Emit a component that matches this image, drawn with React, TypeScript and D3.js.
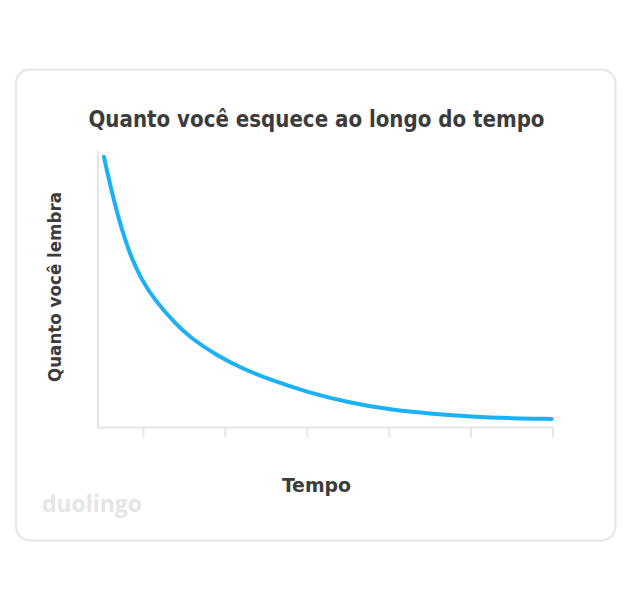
import React from "react";
import * as d3 from "d3";

const timeValues = [1.3, 2.9, 4.4, 5.9, 7.3, 9.5, 12.5, 17.2, 20.2, 26.1, 31.9, 37.8, 45.9, 55.4, 64.2, 73.6, 82.1, 91.2, 99.7];
const memoryValues = [97.9, 86.0, 76.4, 68.2, 61.6, 53.6, 46.0, 37.2, 32.6, 26.0, 21.2, 17.3, 12.8, 8.9, 6.4, 4.9, 3.9, 3.3, 3.1];
const xTickValues = [10, 28, 46, 64, 82, 100];

const title = "Quanto você esquece ao longo do tempo";
const yLabel = "Quanto você lembra";
const xLabel = "Tempo";
const brand = "duolingo";

export default function App() {
  const W = 633, H = 609;
  const x = d3.scaleLinear().domain([0, 100]).range([98, 553]);
  const y = d3.scaleLinear().domain([0, 100]).range([427.5, 151]);
  const data = timeValues.map((t, i) => [t, memoryValues[i]] as [number, number]);
  const line = d3.line<[number, number]>()
    .x(d => x(d[0]))
    .y(d => y(d[1]))
    .curve(d3.curveBasis);
  const axisColor = "#e5e5e5";
  const textColor = "#3c3c3c";
  const font = "'DejaVu Sans Condensed', 'DejaVu Sans', sans-serif";
  return (
    <svg width={W} height={H} style={{ position: "absolute", left: 0, top: 0, background: "#fff" }}>
      <rect x={16} y={69.5} width={599.5} height={471} rx={14} ry={14} fill="#fff" stroke={axisColor} strokeWidth={2} />
      <text x={316.5} y={127} textAnchor="middle" fontFamily={font} fontWeight="bold" fontSize={22.5} fill={textColor} textLength={456} lengthAdjust="spacingAndGlyphs">{title}</text>
      <line x1={x(0)} x2={x(0)} y1={y(100)} y2={y(0)} stroke={axisColor} strokeWidth={2} />
      <line x1={x(0) - 1} x2={x(100) + 1} y1={y(0)} y2={y(0)} stroke={axisColor} strokeWidth={2} />
      {xTickValues.map(v => (
        <line key={v} x1={x(v)} x2={x(v)} y1={y(0)} y2={y(0) + 10} stroke={axisColor} strokeWidth={2} />
      ))}
      <path d={line(data) || ""} fill="none" stroke="#1cb0f6" strokeWidth={4} strokeLinecap="round" strokeLinejoin="round" />
      <text transform={`translate(61,287) rotate(-90)`} textAnchor="middle" fontFamily={font} fontWeight="bold" fontSize={18.5} fill={textColor} textLength={190} lengthAdjust="spacingAndGlyphs">{yLabel}</text>
      <text x={316.5} y={492} textAnchor="middle" fontFamily={font} fontWeight="bold" fontSize={19} fill={textColor} textLength={69} lengthAdjust="spacingAndGlyphs">{xLabel}</text>
      <text x={42} y={512} fontFamily="'Open Sans', Lato, sans-serif" fontWeight="bold" fontSize={23} fill="#e5e5e5" textLength={100} lengthAdjust="spacingAndGlyphs">{brand}</text>
    </svg>
  );
}
